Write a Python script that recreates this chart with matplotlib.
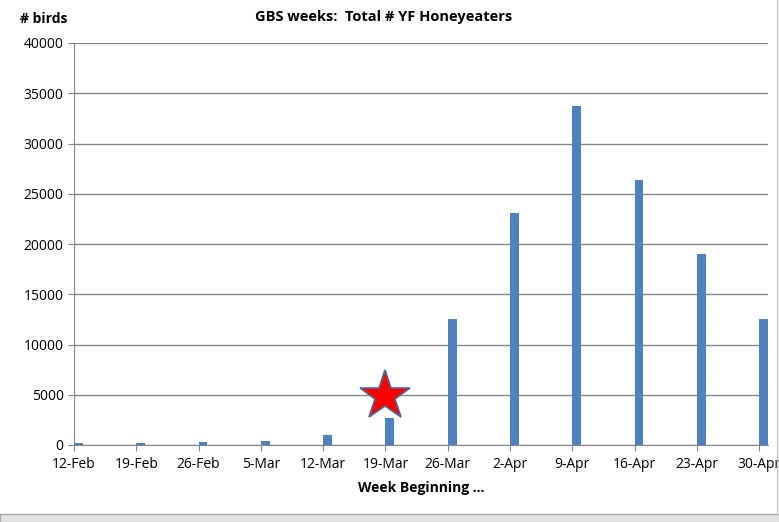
import pandas as pd
import matplotlib.pyplot as plt
from matplotlib.patches import Rectangle

# Weekly totals
weeks = ["12-Feb", "19-Feb", "26-Feb", "5-Mar", "12-Mar", "19-Mar",
         "26-Mar", "2-Apr", "9-Apr", "16-Apr", "23-Apr", "30-Apr"]
birds = [230, 200, 330, 430, 1000, 2700, 12500, 23100, 33700, 26400, 19000, 12500]
star_week = "19-Mar"
star_value = 4900

plt.rcParams["font.family"] = ["Open Sans", "DejaVu Sans"]

dates = pd.to_datetime([w + "-2013" for w in weeks], format="%d-%b-%Y")
days = (dates - dates[0]).days.values

fig = plt.figure(figsize=(7.79, 5.22), dpi=100)
ax = fig.add_axes([74 / 779, 77 / 522, 694 / 779, 402 / 522])

ax.bar(days, birds, width=1, align="edge", color="#4F81BD", zorder=3)

star_x = days[weeks.index(star_week)]
ax.plot(star_x, star_value, marker="*", markersize=38, color="#FF0000",
        markeredgecolor="#4A6A99", markeredgewidth=1.2, zorder=5, clip_on=False)

ax.set_xlim(0, days[-1] + 1)
ax.set_ylim(0, 40000)
ax.set_yticks(range(0, 40001, 5000))
ax.set_xticks(days)
ax.set_xticklabels(weeks)
ax.grid(axis="y", color="#868686", linewidth=1, zorder=0)

for s in ["top", "right"]:
    ax.spines[s].set_visible(False)
for s in ["left", "bottom"]:
    ax.spines[s].set_color("#868686")
ax.tick_params(axis="both", colors="#868686", labelcolor="black", labelsize=10, length=4)
ax.tick_params(axis="x", pad=5)

ax.set_xlabel("Week Beginning ...", fontsize=10, fontweight="bold", labelpad=6)
fig.text(20 / 779, 1 - 19 / 522, "# birds", fontsize=10, fontweight="bold", va="center")
fig.text(384 / 779, 1 - 17 / 522, "GBS weeks:  Total # YF Honeyeaters",
         fontsize=10.5, fontweight="bold", ha="center", va="center")

# spreadsheet frame around the chart
fig.patches.append(Rectangle((0, 0), 1, 8 / 522, transform=fig.transFigure,
                             facecolor="#E4E4E4", edgecolor="#A8A8A8", linewidth=1))
fig.lines.append(plt.Line2D([777 / 779, 777 / 779], [8 / 522, 1], transform=fig.transFigure,
                            color="#C8C8C8", linewidth=1))

fig.savefig("out.png", dpi=100)
